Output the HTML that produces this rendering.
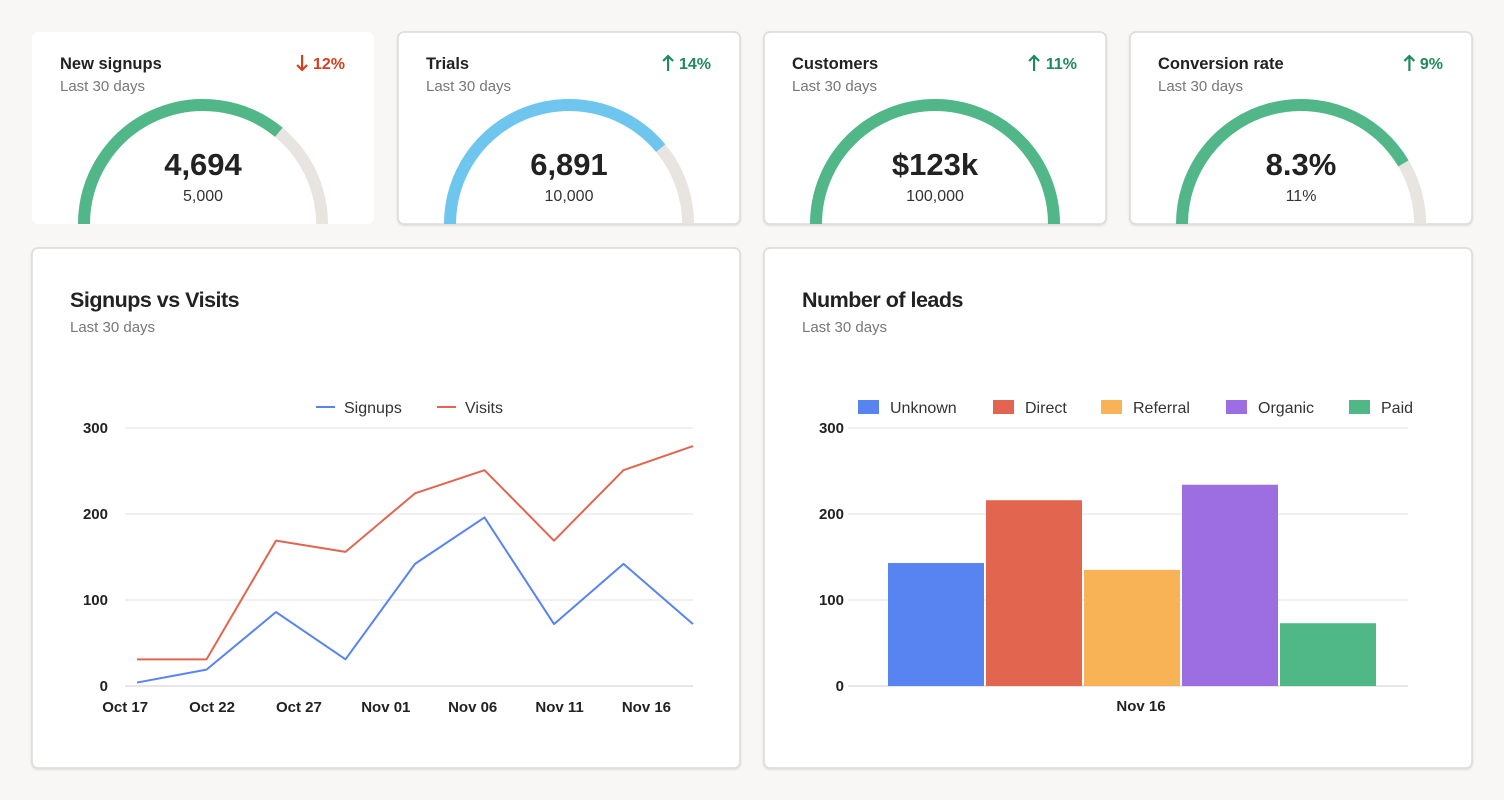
<!DOCTYPE html>
<html><head><meta charset="utf-8">
<style>
html,body{margin:0;padding:0;background:#f8f7f5;width:1504px;height:800px;overflow:hidden;font-family:"Liberation Sans",sans-serif}
svg text{font-family:"Liberation Sans",sans-serif}
</style></head>
<body>
<svg id="root" width="1504" height="800" viewBox="0 0 1504 800">
<defs>
<filter id="sh" x="-5%" y="-5%" width="110%" height="110%"><feDropShadow dx="0" dy="1" stdDeviation="1" flood-color="#000" flood-opacity="0.12"/></filter>
<clipPath id="c0"><rect x="32" y="32" width="342" height="192" rx="6"/></clipPath>
<clipPath id="c1"><rect x="398" y="32" width="342" height="192" rx="6"/></clipPath>
<clipPath id="c2"><rect x="764" y="32" width="342" height="192" rx="6"/></clipPath>
<clipPath id="c3"><rect x="1130" y="32" width="342" height="192" rx="6"/></clipPath>
</defs>
<g id="kpis"></g>
<g id="line-card"></g>
<g id="bar-card"></g>
</svg>
<script>
// KPI data
const kpiTitles = ["New signups","Trials","Customers","Conversion rate"];
const kpiValues = ["4,694","6,891","$123k","8.3%"];
const kpiTargets = ["5,000","10,000","100,000","11%"];
const kpiChanges = ["12%","14%","11%","9%"];
const kpiUp = [false,true,true,true];
const kpiProgress = [0.72,0.78,1.0,0.83];
const kpiColors = ["#52b788","#6ec6ee","#52b788","#52b788"];

// Line chart data
const lineCategories = ["Oct 18","Oct 22","Oct 26","Oct 30","Nov 03","Nov 07","Nov 11","Nov 15","Nov 19"];
const signups = [4,19,86,31,142,196,72,142,72];
const visits = [31,31,169,156,224,251,169,251,279];
const lineTicks = ["Oct 17","Oct 22","Oct 27","Nov 01","Nov 06","Nov 11","Nov 16"];
const lineTickPos = [-0.17,1.08,2.33,3.58,4.83,6.08,7.33];
const yTicks = [0,100,200,300];

// Bar chart data
const barCategories = ["Unknown","Direct","Referral","Organic","Paid"];
const barValues = [143,216,135,234,73];
const barColors = ["#5784f1","#e2664f","#f9b357","#9c6ee1","#50b887"];

const NS="http://www.w3.org/2000/svg";
function mk(tag,attrs,parent,txt){const e=document.createElementNS(NS,tag);for(const k in attrs)e.setAttribute(k,attrs[k]);if(txt!==undefined)e.textContent=txt;parent.appendChild(e);return e;}

// KPI cards
const kg=document.getElementById('kpis');
for(let i=0;i<4;i++){
  const x0=32+i*366;
  const g=mk('g',{},kg);
  
  
  const card=mk('rect',{x:x0,y:32,width:342,height:192,rx:6,fill:'#fff',stroke:i==0?'none':'#dcdad6','stroke-width':1.5,filter:i==0?'':'url(#sh)'},g);
  
  
  const t=mk('text',{x:x0+28,y:69,'font-size':16.5,'font-weight':'bold',fill:'#222'},g,kpiTitles[i]);
  
  
  const s=mk('text',{x:x0+28,y:91,'font-size':15,fill:'#777'},g,'Last 30 days');
  
  
  const col=kpiUp[i]?'#1f8a5b':'#d2401f';
  const ch=mk('text',{x:x0+313,y:69,'font-size':16,'font-weight':'bold','text-anchor':'end',fill:col},g,kpiChanges[i]);
  
  
  const w=kpiChanges[i].length*9.3;
  const ax=x0+313-w-15;
  const ar=mk('path',{d:kpiUp[i]?`M ${ax} 71 V 56 M ${ax-5} 61 L ${ax} 56 L ${ax+5} 61`:`M ${ax} 55 V 70 M ${ax-5} 65 L ${ax} 70 L ${ax+5} 65`,fill:'none',stroke:col,'stroke-width':2.2},g);
  
  
  const cx=x0+171, cy=224, r=119;
  const arcG=mk('g',{'clip-path':'url(#c'+i+')'},g);
  const track=mk('path',{d:`M ${cx-r} ${cy} A ${r} ${r} 0 0 1 ${cx+r} ${cy}`,fill:'none',stroke:'#e8e5e1','stroke-width':12},arcG);
  
  
  const a=Math.PI*(1-Math.min(1,kpiProgress[i]));
  const ex=cx+r*Math.cos(a), ey=cy-r*Math.sin(a);
  const prog=mk('path',{d:`M ${cx-r} ${cy} A ${r} ${r} 0 0 1 ${ex.toFixed(2)} ${ey.toFixed(2)}`,fill:'none',stroke:kpiColors[i],'stroke-width':12},arcG);
  
  
  const v=mk('text',{x:cx,y:175,'font-size':31,'font-weight':'bold','text-anchor':'middle',fill:'#222'},g,kpiValues[i]);
  
  
  const tg=mk('text',{x:cx,y:201,'font-size':16,'text-anchor':'middle',fill:'#333'},g,kpiTargets[i]);
  
  
}

function cardFrame(g,x,title){
  const c=mk('rect',{x:x,y:248,width:708,height:520,rx:6,fill:'#fff',stroke:'#dcdad6','stroke-width':1.5,filter:'url(#sh)'},g);
  
  
  const t=mk('text',{x:x+38,y:307,'font-size':21.5,'font-weight':'bold',fill:'#222','letter-spacing':'-0.5'},g,title);
  
  
  const s=mk('text',{x:x+38,y:332,'font-size':15,fill:'#777'},g,'Last 30 days');
  
  
}
const y0=686, yPer=(686-428)/300;
const ys=v=>y0-v*yPer;

// Line chart
const lg=document.getElementById('line-card');


cardFrame(lg,32,'Signups vs Visits');
const xs=i=>137+i*69.5;
yTicks.forEach(v=>{
  const gl=mk('line',{x1:125,x2:693,y1:ys(v),y2:ys(v),stroke:v==0?'#ccc':'#e2e2e2','stroke-width':1},lg);
  
  
  const tl=mk('text',{x:108,y:ys(v)+5,'font-size':15,'font-weight':'bold','text-anchor':'end',fill:'#222'},lg,v);
  
  
});
lineTicks.forEach((t,i)=>{
  const tl=mk('text',{x:xs(lineTickPos[i]),y:712,'font-size':15,'font-weight':'bold','text-anchor':'middle',fill:'#222'},lg,t);
  
  
});
[[visits,'#e2664f','visits-line'],[signups,'#5784f1','signups-line']].forEach(([arr,col,nm])=>{
  const p=mk('polyline',{points:arr.map((v,i)=>xs(i)+','+ys(v)).join(' '),fill:'none',stroke:col,'stroke-width':2,'stroke-linejoin':'round'},lg);
  
  
});
[['Signups','#5784f1',316],['Visits','#e2664f',437]].forEach(([n,c,x])=>{
  const e=mk('g',{},lg);
  
  
  mk('line',{x1:x,x2:x+19,y1:407,y2:407,stroke:c,'stroke-width':2},e);
  mk('text',{x:x+28,y:413,'font-size':16,fill:'#333'},e,n);
});

// Bar chart
const bg=document.getElementById('bar-card');


cardFrame(bg,764,'Number of leads');
yTicks.forEach(v=>{
  const gl=mk('line',{x1:848,x2:1408,y1:ys(v),y2:ys(v),stroke:v==0?'#ccc':'#e2e2e2','stroke-width':1},bg);
  
  
  const tl=mk('text',{x:844,y:ys(v)+5,'font-size':15,'font-weight':'bold','text-anchor':'end',fill:'#222'},bg,v);
  
  
});
const bx=i=>888+i*98;
barValues.forEach((v,i)=>{
  const r=mk('rect',{x:bx(i),y:ys(v),width:96,height:v*yPer,fill:barColors[i]},bg);
  
  
});
const xl=mk('text',{x:1141,y:711,'font-size':15,'font-weight':'bold','text-anchor':'middle',fill:'#222'},bg,'Nov 16');


const legX=[858,993,1101,1226,1349];
barCategories.forEach((n,i)=>{
  const e=mk('g',{},bg);
  
  
  mk('rect',{x:legX[i],y:400,width:21,height:14,fill:barColors[i]},e);
  mk('text',{x:legX[i]+32,y:413,'font-size':16,fill:'#333'},e,n);
});
</script>
</body></html>
